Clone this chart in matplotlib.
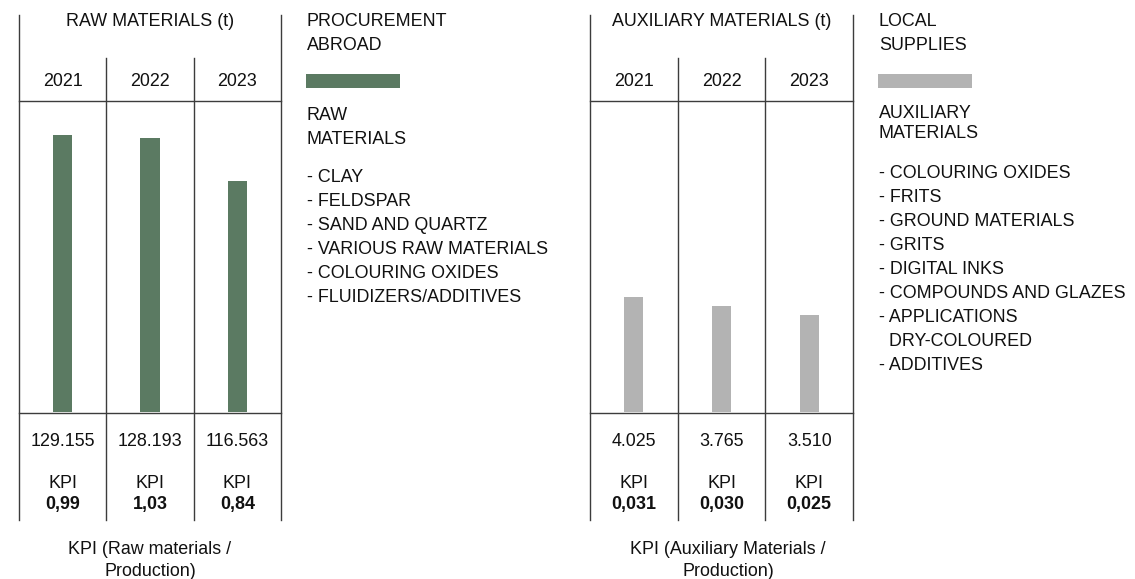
import matplotlib.pyplot as plt

years = ['2021', '2022', '2023']
raw_values = [129155, 128193, 116563]
raw_kpi = ['0,99', '1,03', '0,84']
aux_values = [4025, 3765, 3510]
aux_kpi = ['0,031', '0,030', '0,025']

raw_items = ['- CLAY', '- FELDSPAR', '- SAND AND QUARTZ', '- VARIOUS RAW MATERIALS',
             '- COLOURING OXIDES', '- FLUIDIZERS/ADDITIVES']
aux_items = ['- COLOURING OXIDES', '- FRITS', '- GROUND MATERIALS', '- GRITS',
             '- DIGITAL INKS', '- COMPOUNDS AND GLAZES', '- APPLICATIONS',
             '  DRY-COLOURED', '- ADDITIVES']

green = '#5b7a62'
grey = '#b3b3b3'
line_c = '#3c3c3c'
txt_c = '#111111'
fs = 12.9

plt.rcParams['font.family'] = ['Liberation Sans', 'DejaVu Sans']

W, H = 1135, 579
fig = plt.figure(figsize=(W / 100, H / 100), dpi=100)

# overlay in pixel coords for the table lines and texts
ov = fig.add_axes([0, 0, 1, 1])
ov.set_xlim(0, W)
ov.set_ylim(H, 0)
ov.axis('off')
ov.set_zorder(3)


def fmt(v):
    return f'{v:,}'.replace(',', '.')


def panel(x0, x1, values, ylim, color, kpis, title, caption):
    ax = fig.add_axes([x0 / W, 1 - 412 / H, (x1 - x0) / W, (412 - 101) / H])
    ax.bar(range(len(values)), values, width=0.22, color=color)
    ax.set_xlim(-0.5, 2.5)
    ax.set_ylim(ylim)
    ax.axis('off')

    cw = (x1 - x0) / 3
    # outer verticals
    ov.plot([x0, x0], [15, 520], color=line_c, lw=1)
    ov.plot([x1, x1], [15, 520], color=line_c, lw=1)
    for i in (1, 2):
        ov.plot([x0 + i * cw] * 2, [58, 520], color=line_c, lw=1)
    ov.plot([x0, x1], [101, 101], color=line_c, lw=1)
    ov.plot([x0, x1], [412.5, 412.5], color=line_c, lw=1)

    mid = (x0 + x1) / 2
    ov.text(mid, 22, title, ha='center', va='center', fontsize=fs, color=txt_c)
    for i in range(3):
        cx = x0 + (i + 0.5) * cw
        ov.text(cx, 81, years[i], ha='center', va='center', fontsize=fs, color=txt_c)
        ov.text(cx, 441, fmt(values[i]), ha='center', va='center', fontsize=fs, color=txt_c)
        ov.text(cx, 483, 'KPI', ha='center', va='center', fontsize=fs, color=txt_c)
        ov.text(cx, 505, kpis[i], ha='center', va='center', fontsize=fs,
                color=txt_c, fontweight='bold')
    ov.text(caption[0], 549, caption[1], ha='center', va='center', fontsize=fs, color=txt_c)
    ov.text(caption[0], 571, caption[2], ha='center', va='center', fontsize=fs, color=txt_c)


def legend(x, head, color, label, items, y_label, y_list):
    ov.text(x, 21, head[0], ha='left', va='center', fontsize=fs, color=txt_c)
    ov.text(x, 45, head[1], ha='left', va='center', fontsize=fs, color=txt_c)
    ov.add_patch(plt.Rectangle((x - 1, 74), 94, 13.5, color=color, lw=0))
    ov.text(x, y_label[0], label[0], ha='left', va='center', fontsize=fs, color=txt_c)
    ov.text(x, y_label[1], label[1], ha='left', va='center', fontsize=fs, color=txt_c)
    for k, it in enumerate(items):
        ov.text(x, y_list + 24 * k, it, ha='left', va='center', fontsize=fs, color=txt_c)


panel(19, 281, raw_values, (53000, 138500), green, raw_kpi,
      'RAW MATERIALS (t)', (150, 'KPI (Raw materials /', 'Production)'))
panel(590, 853, aux_values, (750, 9630), grey, aux_kpi,
      'AUXILIARY MATERIALS (t)', (728, 'KPI (Auxiliary Materials /', 'Production)'))

legend(307, ('PROCUREMENT', 'ABROAD'), green, ('RAW', 'MATERIALS'), raw_items, (116, 139), 177)
legend(879, ('LOCAL', 'SUPPLIES'), grey, ('AUXILIARY', 'MATERIALS'), aux_items, (113, 134), 173)

fig.savefig('out.png', dpi=100)
